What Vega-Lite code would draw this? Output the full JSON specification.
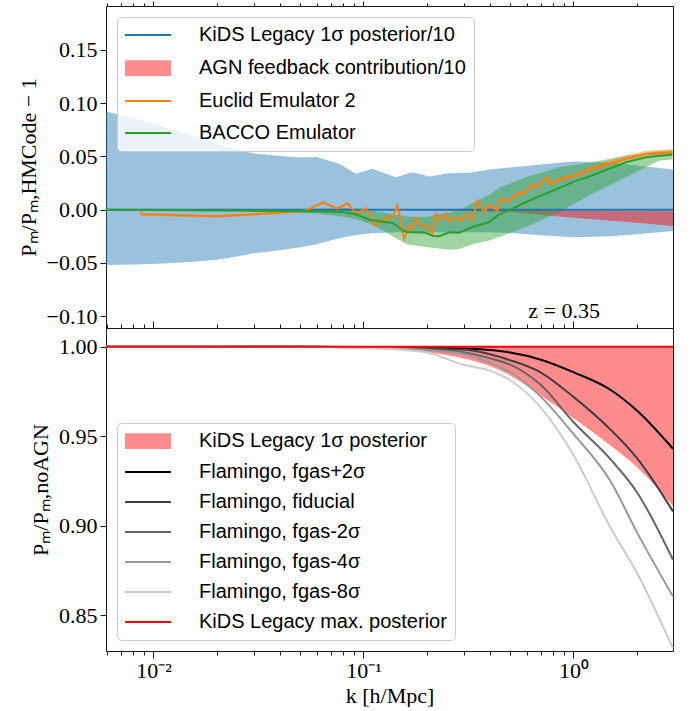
{
  "$schema": "https://vega.github.io/schema/vega-lite/v6.json",
  "padding": {"left": 16, "right": 5, "top": 0, "bottom": 0},
  "bounds": "flush",
  "spacing": 0,
  "background": "white",
  "datasets": {
    "topBands": [
      {"s": "KiDS Legacy 1σ posterior/10", "k": 0.00594, "lo": -0.052, "hi": 0.092},
      {"s": "KiDS Legacy 1σ posterior/10", "k": 0.008, "lo": -0.0515, "hi": 0.086},
      {"s": "KiDS Legacy 1σ posterior/10", "k": 0.01, "lo": -0.051, "hi": 0.0806},
      {"s": "KiDS Legacy 1σ posterior/10", "k": 0.015, "lo": -0.049, "hi": 0.0698},
      {"s": "KiDS Legacy 1σ posterior/10", "k": 0.02, "lo": -0.047, "hi": 0.0621},
      {"s": "KiDS Legacy 1σ posterior/10", "k": 0.025, "lo": -0.044, "hi": 0.0563},
      {"s": "KiDS Legacy 1σ posterior/10", "k": 0.03, "lo": -0.041, "hi": 0.0526},
      {"s": "KiDS Legacy 1σ posterior/10", "k": 0.04, "lo": -0.038, "hi": 0.0503},
      {"s": "KiDS Legacy 1σ posterior/10", "k": 0.05, "lo": -0.0352, "hi": 0.0489},
      {"s": "KiDS Legacy 1σ posterior/10", "k": 0.06, "lo": -0.0324, "hi": 0.0493},
      {"s": "KiDS Legacy 1σ posterior/10", "k": 0.0766, "lo": -0.0268, "hi": 0.043},
      {"s": "KiDS Legacy 1σ posterior/10", "k": 0.092, "lo": -0.0238, "hi": 0.0336},
      {"s": "KiDS Legacy 1σ posterior/10", "k": 0.11, "lo": -0.0221, "hi": 0.0383},
      {"s": "KiDS Legacy 1σ posterior/10", "k": 0.1426, "lo": -0.0212, "hi": 0.0304},
      {"s": "KiDS Legacy 1σ posterior/10", "k": 0.171, "lo": -0.0212, "hi": 0.0351},
      {"s": "KiDS Legacy 1σ posterior/10", "k": 0.2056, "lo": -0.0212, "hi": 0.0311},
      {"s": "KiDS Legacy 1σ posterior/10", "k": 0.255, "lo": -0.0212, "hi": 0.0342},
      {"s": "KiDS Legacy 1σ posterior/10", "k": 0.32, "lo": -0.0212, "hi": 0.0345},
      {"s": "KiDS Legacy 1σ posterior/10", "k": 0.4, "lo": -0.0212, "hi": 0.0377},
      {"s": "KiDS Legacy 1σ posterior/10", "k": 0.5, "lo": -0.022, "hi": 0.0395},
      {"s": "KiDS Legacy 1σ posterior/10", "k": 0.7, "lo": -0.024, "hi": 0.0423},
      {"s": "KiDS Legacy 1σ posterior/10", "k": 1.0, "lo": -0.026, "hi": 0.0451},
      {"s": "KiDS Legacy 1σ posterior/10", "k": 1.5, "lo": -0.025, "hi": 0.0442},
      {"s": "KiDS Legacy 1σ posterior/10", "k": 2.0, "lo": -0.023, "hi": 0.0414},
      {"s": "KiDS Legacy 1σ posterior/10", "k": 2.98, "lo": -0.02, "hi": 0.0377},
      {"s": "AGN feedback contribution/10", "k": 0.1, "lo": 0, "hi": 0},
      {"s": "AGN feedback contribution/10", "k": 0.2, "lo": -0.0008, "hi": 0},
      {"s": "AGN feedback contribution/10", "k": 0.3, "lo": -0.0013, "hi": 0},
      {"s": "AGN feedback contribution/10", "k": 0.5, "lo": -0.0023, "hi": -0.0003},
      {"s": "AGN feedback contribution/10", "k": 1.0, "lo": -0.0075, "hi": -0.0008},
      {"s": "AGN feedback contribution/10", "k": 2.0, "lo": -0.0123, "hi": -0.0012},
      {"s": "AGN feedback contribution/10", "k": 2.98, "lo": -0.0153, "hi": -0.0015},
      {"s": "BACCO Emulator", "k": 0.00594, "lo": -0.0005, "hi": 0.0005},
      {"s": "BACCO Emulator", "k": 0.0286, "lo": -0.0015, "hi": 0.0},
      {"s": "BACCO Emulator", "k": 0.0593, "lo": -0.0035, "hi": 0.0008},
      {"s": "BACCO Emulator", "k": 0.0792, "lo": -0.0065, "hi": 0.0015},
      {"s": "BACCO Emulator", "k": 0.092, "lo": -0.009, "hi": 0.001},
      {"s": "BACCO Emulator", "k": 0.1065, "lo": -0.013, "hi": -0.001},
      {"s": "BACCO Emulator", "k": 0.1231, "lo": -0.019, "hi": -0.0025},
      {"s": "BACCO Emulator", "k": 0.1374, "lo": -0.025, "hi": -0.004},
      {"s": "BACCO Emulator", "k": 0.1614, "lo": -0.0325, "hi": -0.0065},
      {"s": "BACCO Emulator", "k": 0.1982, "lo": -0.035, "hi": -0.007},
      {"s": "BACCO Emulator", "k": 0.2293, "lo": -0.0365, "hi": -0.004},
      {"s": "BACCO Emulator", "k": 0.2559, "lo": -0.0375, "hi": -0.003},
      {"s": "BACCO Emulator", "k": 0.2856, "lo": -0.037, "hi": 0.0},
      {"s": "BACCO Emulator", "k": 0.3304, "lo": -0.0325, "hi": 0.006},
      {"s": "BACCO Emulator", "k": 0.3968, "lo": -0.029, "hi": 0.014},
      {"s": "BACCO Emulator", "k": 0.4428, "lo": -0.0256, "hi": 0.0205},
      {"s": "BACCO Emulator", "k": 0.5933, "lo": -0.0163, "hi": 0.0305},
      {"s": "BACCO Emulator", "k": 0.855, "lo": -0.0022, "hi": 0.0398},
      {"s": "BACCO Emulator", "k": 1.2316, "lo": 0.015, "hi": 0.0445},
      {"s": "BACCO Emulator", "k": 1.776, "lo": 0.0305, "hi": 0.0507},
      {"s": "BACCO Emulator", "k": 2.56, "lo": 0.046, "hi": 0.0548},
      {"s": "BACCO Emulator", "k": 2.961, "lo": 0.047, "hi": 0.0554},
      {"s": "Euclid Emulator 2", "k": 0.00871, "lo": -0.0012, "hi": 0.0012},
      {"s": "Euclid Emulator 2", "k": 0.00879, "lo": -0.0056, "hi": -0.0032},
      {"s": "Euclid Emulator 2", "k": 0.0198, "lo": -0.0075, "hi": -0.0051},
      {"s": "Euclid Emulator 2", "k": 0.0343, "lo": -0.0049, "hi": -0.0025},
      {"s": "Euclid Emulator 2", "k": 0.0443, "lo": -0.0034, "hi": -0.001},
      {"s": "Euclid Emulator 2", "k": 0.0532, "lo": -0.0019, "hi": 0.0005},
      {"s": "Euclid Emulator 2", "k": 0.0643, "lo": 0.0056, "hi": 0.008},
      {"s": "Euclid Emulator 2", "k": 0.0749, "lo": -0.0003, "hi": 0.0021},
      {"s": "Euclid Emulator 2", "k": 0.0839, "lo": 0.0047, "hi": 0.0071},
      {"s": "Euclid Emulator 2", "k": 0.0923, "lo": -0.0051, "hi": -0.0027},
      {"s": "Euclid Emulator 2", "k": 0.1027, "lo": -0.0003, "hi": 0.0027},
      {"s": "Euclid Emulator 2", "k": 0.1143, "lo": -0.0166, "hi": -0.0136},
      {"s": "Euclid Emulator 2", "k": 0.1231, "lo": -0.0106, "hi": -0.0076},
      {"s": "Euclid Emulator 2", "k": 0.1374, "lo": -0.008, "hi": -0.005},
      {"s": "Euclid Emulator 2", "k": 0.1452, "lo": 0.0025, "hi": 0.0055},
      {"s": "Euclid Emulator 2", "k": 0.1562, "lo": -0.0286, "hi": -0.0256},
      {"s": "Euclid Emulator 2", "k": 0.1651, "lo": -0.0166, "hi": -0.0136},
      {"s": "Euclid Emulator 2", "k": 0.1711, "lo": -0.0193, "hi": -0.0163},
      {"s": "Euclid Emulator 2", "k": 0.1777, "lo": -0.0092, "hi": -0.0062},
      {"s": "Euclid Emulator 2", "k": 0.1876, "lo": -0.0162, "hi": -0.0132},
      {"s": "Euclid Emulator 2", "k": 0.2056, "lo": -0.018, "hi": -0.015},
      {"s": "Euclid Emulator 2", "k": 0.2131, "lo": -0.0239, "hi": -0.0209},
      {"s": "Euclid Emulator 2", "k": 0.2212, "lo": -0.0052, "hi": -0.0022},
      {"s": "Euclid Emulator 2", "k": 0.2336, "lo": -0.0115, "hi": -0.0085},
      {"s": "Euclid Emulator 2", "k": 0.2468, "lo": -0.0052, "hi": -0.0022},
      {"s": "Euclid Emulator 2", "k": 0.2559, "lo": -0.0124, "hi": -0.0094},
      {"s": "Euclid Emulator 2", "k": 0.2754, "lo": -0.0087, "hi": -0.0057},
      {"s": "Euclid Emulator 2", "k": 0.2919, "lo": -0.0115, "hi": -0.0085},
      {"s": "Euclid Emulator 2", "k": 0.3074, "lo": -0.0052, "hi": -0.0022},
      {"s": "Euclid Emulator 2", "k": 0.3304, "lo": -0.0115, "hi": -0.0085},
      {"s": "Euclid Emulator 2", "k": 0.349, "lo": 0.0072, "hi": 0.0102},
      {"s": "Euclid Emulator 2", "k": 0.3757, "lo": -0.0037, "hi": -0.0007},
      {"s": "Euclid Emulator 2", "k": 0.3968, "lo": 0.0025, "hi": 0.0055},
      {"s": "Euclid Emulator 2", "k": 0.4346, "lo": -0.0022, "hi": 0.0008},
      {"s": "Euclid Emulator 2", "k": 0.4511, "lo": 0.0088, "hi": 0.0118},
      {"s": "Euclid Emulator 2", "k": 0.485, "lo": 0.0058, "hi": 0.0088},
      {"s": "Euclid Emulator 2", "k": 0.5412, "lo": 0.013, "hi": 0.017},
      {"s": "Euclid Emulator 2", "k": 0.5933, "lo": 0.0144, "hi": 0.0184},
      {"s": "Euclid Emulator 2", "k": 0.6268, "lo": 0.0207, "hi": 0.0247},
      {"s": "Euclid Emulator 2", "k": 0.6739, "lo": 0.0191, "hi": 0.0231},
      {"s": "Euclid Emulator 2", "k": 0.7518, "lo": 0.0285, "hi": 0.0325},
      {"s": "Euclid Emulator 2", "k": 0.7804, "lo": 0.0223, "hi": 0.0263},
      {"s": "Euclid Emulator 2", "k": 0.9201, "lo": 0.0285, "hi": 0.0325},
      {"s": "Euclid Emulator 2", "k": 0.989, "lo": 0.029, "hi": 0.033},
      {"s": "Euclid Emulator 2", "k": 1.2316, "lo": 0.0368, "hi": 0.0413},
      {"s": "Euclid Emulator 2", "k": 1.447, "lo": 0.0408, "hi": 0.0453},
      {"s": "Euclid Emulator 2", "k": 1.776, "lo": 0.046, "hi": 0.0505},
      {"s": "Euclid Emulator 2", "k": 2.212, "lo": 0.0508, "hi": 0.0553},
      {"s": "Euclid Emulator 2", "k": 2.961, "lo": 0.0523, "hi": 0.0568}
    ],
    "topLines": [
      {"s": "KiDS Legacy 1σ posterior/10", "k": 0.00594, "v": 0},
      {"s": "KiDS Legacy 1σ posterior/10", "k": 2.98, "v": 0},
      {"s": "Euclid Emulator 2", "k": 0.00871, "v": 0.0},
      {"s": "Euclid Emulator 2", "k": 0.00879, "v": -0.0044},
      {"s": "Euclid Emulator 2", "k": 0.0198, "v": -0.0063},
      {"s": "Euclid Emulator 2", "k": 0.0343, "v": -0.0037},
      {"s": "Euclid Emulator 2", "k": 0.0443, "v": -0.0022},
      {"s": "Euclid Emulator 2", "k": 0.0532, "v": -0.0007},
      {"s": "Euclid Emulator 2", "k": 0.0643, "v": 0.0068},
      {"s": "Euclid Emulator 2", "k": 0.0749, "v": 0.0009},
      {"s": "Euclid Emulator 2", "k": 0.0839, "v": 0.0059},
      {"s": "Euclid Emulator 2", "k": 0.0923, "v": -0.0039},
      {"s": "Euclid Emulator 2", "k": 0.1027, "v": 0.0012},
      {"s": "Euclid Emulator 2", "k": 0.1143, "v": -0.0151},
      {"s": "Euclid Emulator 2", "k": 0.1231, "v": -0.0091},
      {"s": "Euclid Emulator 2", "k": 0.1374, "v": -0.0065},
      {"s": "Euclid Emulator 2", "k": 0.1452, "v": 0.004},
      {"s": "Euclid Emulator 2", "k": 0.1562, "v": -0.0271},
      {"s": "Euclid Emulator 2", "k": 0.1651, "v": -0.0151},
      {"s": "Euclid Emulator 2", "k": 0.1711, "v": -0.0178},
      {"s": "Euclid Emulator 2", "k": 0.1777, "v": -0.0077},
      {"s": "Euclid Emulator 2", "k": 0.1876, "v": -0.0147},
      {"s": "Euclid Emulator 2", "k": 0.2056, "v": -0.0165},
      {"s": "Euclid Emulator 2", "k": 0.2131, "v": -0.0224},
      {"s": "Euclid Emulator 2", "k": 0.2212, "v": -0.0037},
      {"s": "Euclid Emulator 2", "k": 0.2336, "v": -0.01},
      {"s": "Euclid Emulator 2", "k": 0.2468, "v": -0.0037},
      {"s": "Euclid Emulator 2", "k": 0.2559, "v": -0.0109},
      {"s": "Euclid Emulator 2", "k": 0.2754, "v": -0.0072},
      {"s": "Euclid Emulator 2", "k": 0.2919, "v": -0.01},
      {"s": "Euclid Emulator 2", "k": 0.3074, "v": -0.0037},
      {"s": "Euclid Emulator 2", "k": 0.3304, "v": -0.01},
      {"s": "Euclid Emulator 2", "k": 0.349, "v": 0.0087},
      {"s": "Euclid Emulator 2", "k": 0.3757, "v": -0.0022},
      {"s": "Euclid Emulator 2", "k": 0.3968, "v": 0.004},
      {"s": "Euclid Emulator 2", "k": 0.4346, "v": -0.0007},
      {"s": "Euclid Emulator 2", "k": 0.4511, "v": 0.0103},
      {"s": "Euclid Emulator 2", "k": 0.485, "v": 0.0073},
      {"s": "Euclid Emulator 2", "k": 0.5412, "v": 0.015},
      {"s": "Euclid Emulator 2", "k": 0.5933, "v": 0.0164},
      {"s": "Euclid Emulator 2", "k": 0.6268, "v": 0.0227},
      {"s": "Euclid Emulator 2", "k": 0.6739, "v": 0.0211},
      {"s": "Euclid Emulator 2", "k": 0.7518, "v": 0.0305},
      {"s": "Euclid Emulator 2", "k": 0.7804, "v": 0.0243},
      {"s": "Euclid Emulator 2", "k": 0.9201, "v": 0.0305},
      {"s": "Euclid Emulator 2", "k": 0.989, "v": 0.031},
      {"s": "Euclid Emulator 2", "k": 1.2316, "v": 0.0383},
      {"s": "Euclid Emulator 2", "k": 1.447, "v": 0.0423},
      {"s": "Euclid Emulator 2", "k": 1.776, "v": 0.0475},
      {"s": "Euclid Emulator 2", "k": 2.212, "v": 0.0523},
      {"s": "Euclid Emulator 2", "k": 2.961, "v": 0.0538},
      {"s": "BACCO Emulator", "k": 0.00594, "v": 0},
      {"s": "BACCO Emulator", "k": 0.02855, "v": -0.0011},
      {"s": "BACCO Emulator", "k": 0.05934, "v": -0.0016},
      {"s": "BACCO Emulator", "k": 0.07915, "v": -0.0022},
      {"s": "BACCO Emulator", "k": 0.09201, "v": -0.0044},
      {"s": "BACCO Emulator", "k": 0.1065, "v": -0.0095},
      {"s": "BACCO Emulator", "k": 0.1231, "v": -0.0114},
      {"s": "BACCO Emulator", "k": 0.1374, "v": -0.0123},
      {"s": "BACCO Emulator", "k": 0.1534, "v": -0.0193},
      {"s": "BACCO Emulator", "k": 0.1614, "v": -0.0209},
      {"s": "BACCO Emulator", "k": 0.1982, "v": -0.0217},
      {"s": "BACCO Emulator", "k": 0.2131, "v": -0.0245},
      {"s": "BACCO Emulator", "k": 0.2293, "v": -0.025},
      {"s": "BACCO Emulator", "k": 0.2559, "v": -0.0213},
      {"s": "BACCO Emulator", "k": 0.2856, "v": -0.0217},
      {"s": "BACCO Emulator", "k": 0.3304, "v": -0.0163},
      {"s": "BACCO Emulator", "k": 0.3968, "v": -0.0116},
      {"s": "BACCO Emulator", "k": 0.4428, "v": -0.0044},
      {"s": "BACCO Emulator", "k": 0.4941, "v": -0.0007},
      {"s": "BACCO Emulator", "k": 0.5933, "v": 0.0071},
      {"s": "BACCO Emulator", "k": 0.7387, "v": 0.015},
      {"s": "BACCO Emulator", "k": 0.9201, "v": 0.0227},
      {"s": "BACCO Emulator", "k": 0.989, "v": 0.0258},
      {"s": "BACCO Emulator", "k": 1.2316, "v": 0.0321},
      {"s": "BACCO Emulator", "k": 1.479, "v": 0.0384},
      {"s": "BACCO Emulator", "k": 1.776, "v": 0.0445},
      {"s": "BACCO Emulator", "k": 2.212, "v": 0.0492},
      {"s": "BACCO Emulator", "k": 2.961, "v": 0.0517}
    ],
    "botBand": [
      {"s": "KiDS Legacy 1σ posterior", "k": 0.00594, "lo": 1.0, "hi": 1.0},
      {"s": "KiDS Legacy 1σ posterior", "k": 0.05, "lo": 1.0, "hi": 1.0},
      {"s": "KiDS Legacy 1σ posterior", "k": 0.1, "lo": 0.9995, "hi": 1.0},
      {"s": "KiDS Legacy 1σ posterior", "k": 0.15, "lo": 0.9985, "hi": 1.0},
      {"s": "KiDS Legacy 1σ posterior", "k": 0.2, "lo": 0.997, "hi": 1.0},
      {"s": "KiDS Legacy 1σ posterior", "k": 0.3, "lo": 0.9935, "hi": 1.0},
      {"s": "KiDS Legacy 1σ posterior", "k": 0.4, "lo": 0.9892, "hi": 1.0},
      {"s": "KiDS Legacy 1σ posterior", "k": 0.5, "lo": 0.984, "hi": 1.0},
      {"s": "KiDS Legacy 1σ posterior", "k": 0.7, "lo": 0.9728, "hi": 1.0},
      {"s": "KiDS Legacy 1σ posterior", "k": 1.0, "lo": 0.96, "hi": 1.0},
      {"s": "KiDS Legacy 1σ posterior", "k": 1.5, "lo": 0.9449, "hi": 1.0},
      {"s": "KiDS Legacy 1σ posterior", "k": 2.0, "lo": 0.933, "hi": 1.0},
      {"s": "KiDS Legacy 1σ posterior", "k": 2.98, "lo": 0.911, "hi": 1.0}
    ],
    "botLines": [
      {"s": "Flamingo, fgas+2σ", "k": 0.00594, "v": 1.0},
      {"s": "Flamingo, fgas+2σ", "k": 0.05, "v": 1.0},
      {"s": "Flamingo, fgas+2σ", "k": 0.1, "v": 0.9999},
      {"s": "Flamingo, fgas+2σ", "k": 0.15, "v": 0.9997},
      {"s": "Flamingo, fgas+2σ", "k": 0.2, "v": 0.9995},
      {"s": "Flamingo, fgas+2σ", "k": 0.3, "v": 0.999},
      {"s": "Flamingo, fgas+2σ", "k": 0.4, "v": 0.9982},
      {"s": "Flamingo, fgas+2σ", "k": 0.5, "v": 0.9968},
      {"s": "Flamingo, fgas+2σ", "k": 0.7, "v": 0.9928},
      {"s": "Flamingo, fgas+2σ", "k": 1.0, "v": 0.9858},
      {"s": "Flamingo, fgas+2σ", "k": 1.5, "v": 0.976},
      {"s": "Flamingo, fgas+2σ", "k": 2.0, "v": 0.9645},
      {"s": "Flamingo, fgas+2σ", "k": 2.98, "v": 0.943},
      {"s": "Flamingo, fiducial", "k": 0.00594, "v": 1.0},
      {"s": "Flamingo, fiducial", "k": 0.05, "v": 1.0},
      {"s": "Flamingo, fiducial", "k": 0.1, "v": 0.9998},
      {"s": "Flamingo, fiducial", "k": 0.15, "v": 0.9995},
      {"s": "Flamingo, fiducial", "k": 0.2, "v": 0.999},
      {"s": "Flamingo, fiducial", "k": 0.3, "v": 0.9985},
      {"s": "Flamingo, fiducial", "k": 0.4, "v": 0.9958},
      {"s": "Flamingo, fiducial", "k": 0.5, "v": 0.9925},
      {"s": "Flamingo, fiducial", "k": 0.7, "v": 0.9856},
      {"s": "Flamingo, fiducial", "k": 1.0, "v": 0.972},
      {"s": "Flamingo, fiducial", "k": 1.5, "v": 0.9538},
      {"s": "Flamingo, fiducial", "k": 2.0, "v": 0.938},
      {"s": "Flamingo, fiducial", "k": 2.98, "v": 0.908},
      {"s": "Flamingo, fgas-2σ", "k": 0.00594, "v": 1.0},
      {"s": "Flamingo, fgas-2σ", "k": 0.05, "v": 1.0},
      {"s": "Flamingo, fgas-2σ", "k": 0.1, "v": 0.9997},
      {"s": "Flamingo, fgas-2σ", "k": 0.15, "v": 0.9993},
      {"s": "Flamingo, fgas-2σ", "k": 0.2, "v": 0.9985},
      {"s": "Flamingo, fgas-2σ", "k": 0.3, "v": 0.997},
      {"s": "Flamingo, fgas-2σ", "k": 0.4, "v": 0.9936},
      {"s": "Flamingo, fgas-2σ", "k": 0.5, "v": 0.99},
      {"s": "Flamingo, fgas-2σ", "k": 0.7, "v": 0.9786},
      {"s": "Flamingo, fgas-2σ", "k": 1.0, "v": 0.958},
      {"s": "Flamingo, fgas-2σ", "k": 1.5, "v": 0.9372},
      {"s": "Flamingo, fgas-2σ", "k": 2.0, "v": 0.919},
      {"s": "Flamingo, fgas-2σ", "k": 2.98, "v": 0.881},
      {"s": "Flamingo, fgas-4σ", "k": 0.00594, "v": 1.0},
      {"s": "Flamingo, fgas-4σ", "k": 0.05, "v": 1.0},
      {"s": "Flamingo, fgas-4σ", "k": 0.1, "v": 0.9996},
      {"s": "Flamingo, fgas-4σ", "k": 0.15, "v": 0.999},
      {"s": "Flamingo, fgas-4σ", "k": 0.2, "v": 0.998},
      {"s": "Flamingo, fgas-4σ", "k": 0.3, "v": 0.996},
      {"s": "Flamingo, fgas-4σ", "k": 0.4, "v": 0.991},
      {"s": "Flamingo, fgas-4σ", "k": 0.5, "v": 0.986},
      {"s": "Flamingo, fgas-4σ", "k": 0.7, "v": 0.972},
      {"s": "Flamingo, fgas-4σ", "k": 1.0, "v": 0.9513},
      {"s": "Flamingo, fgas-4σ", "k": 1.5, "v": 0.925},
      {"s": "Flamingo, fgas-4σ", "k": 2.0, "v": 0.8967},
      {"s": "Flamingo, fgas-4σ", "k": 2.98, "v": 0.8604},
      {"s": "Flamingo, fgas-8σ", "k": 0.00594, "v": 1.0},
      {"s": "Flamingo, fgas-8σ", "k": 0.05, "v": 0.9999},
      {"s": "Flamingo, fgas-8σ", "k": 0.1, "v": 0.9993},
      {"s": "Flamingo, fgas-8σ", "k": 0.15, "v": 0.9983},
      {"s": "Flamingo, fgas-8σ", "k": 0.2, "v": 0.9968},
      {"s": "Flamingo, fgas-8σ", "k": 0.3, "v": 0.99},
      {"s": "Flamingo, fgas-8σ", "k": 0.4, "v": 0.9867},
      {"s": "Flamingo, fgas-8σ", "k": 0.5, "v": 0.9813},
      {"s": "Flamingo, fgas-8σ", "k": 0.7, "v": 0.966},
      {"s": "Flamingo, fgas-8σ", "k": 1.0, "v": 0.9395},
      {"s": "Flamingo, fgas-8σ", "k": 1.5, "v": 0.899},
      {"s": "Flamingo, fgas-8σ", "k": 2.0, "v": 0.874},
      {"s": "Flamingo, fgas-8σ", "k": 2.98, "v": 0.8315},
      {"s": "KiDS Legacy max. posterior", "k": 0.00594, "v": 1.0},
      {"s": "KiDS Legacy max. posterior", "k": 2.98, "v": 1.0}
    ]
  },
  "vconcat": [
    {
      "width": 567,
      "height": 322,
      "layer": [
        {
          "data": {"name": "topBands"},
          "mark": {"type": "area", "opacity": 0.45},
          "encoding": {
            "x": {"field": "k", "type": "quantitative",
              "scale": {"type": "log", "domain": [0.00594, 2.98], "nice": false},
              "axis": {"orient": "top", "title": null, "labels": false, "domain": false,
                "values": [0.006,0.007,0.008,0.009,0.01,0.02,0.03,0.04,0.05,0.06,0.07,0.08,0.09,0.1,0.2,0.3,0.4,0.5,0.6,0.7,0.8,0.9,1,2],
                "tickSize": {"condition": {"test": "datum.value == 0.01 || datum.value == 0.1 || datum.value == 1", "value": 5}, "value": 3}}},
            "y": {"field": "lo", "type": "quantitative",
              "scale": {"domain": [-0.111, 0.191], "nice": false, "zero": false},
              "axis": {"title": "Pₘ/Pₘ,HMCode − 1", "values": [-0.1, -0.05, 0, 0.05, 0.1, 0.15], "format": ".2f", "tickSize": 6, "labelPadding": 3, "titlePadding": 6, "domain": false}},
            "y2": {"field": "hi"},
            "fill": {"field": "s", "type": "nominal", "legend": null,
              "scale": {"domain": ["AGN feedback contribution/10", "KiDS Legacy 1σ posterior/10", "BACCO Emulator", "Euclid Emulator 2"], "range": ["#ff0000", "#1f77b4", "#2ca02c", "#ff7f0e"]}}
          }
        },
        {
          "data": {"name": "topLines"},
          "mark": {"type": "line", "strokeWidth": 2},
          "encoding": {
            "x": {"field": "k", "type": "quantitative",
              "axis": {"orient": "top", "title": null, "labels": false, "domain": false,
                "values": [0.006,0.007,0.008,0.009,0.01,0.02,0.03,0.04,0.05,0.06,0.07,0.08,0.09,0.1,0.2,0.3,0.4,0.5,0.6,0.7,0.8,0.9,1,2],
                "tickSize": {"condition": {"test": "datum.value == 0.01 || datum.value == 0.1 || datum.value == 1", "value": 5}, "value": 3}}},
            "y": {"field": "v", "type": "quantitative",
              "axis": {"title": "Pₘ/Pₘ,HMCode − 1", "values": [-0.1, -0.05, 0, 0.05, 0.1, 0.15], "format": ".2f", "tickSize": 6, "labelPadding": 3, "titlePadding": 6, "domain": false}},
            "color": {"field": "s", "type": "nominal", "legend": null,
              "scale": {"domain": ["KiDS Legacy 1σ posterior/10", "Euclid Emulator 2", "BACCO Emulator"], "range": ["#1f77b4", "#ff7f0e", "#2ca02c"]}}
          }
        },
        {
          "data": {"values": [{}]},
          "mark": {"type": "text", "font": "Liberation Serif", "fontSize": 22, "align": "center", "baseline": "middle", "color": "#000"},
          "encoding": {
            "x": {"datum": 0.903, "type": "quantitative",
              "axis": {"orient": "top", "title": null, "labels": false, "domain": false,
                "values": [0.006,0.007,0.008,0.009,0.01,0.02,0.03,0.04,0.05,0.06,0.07,0.08,0.09,0.1,0.2,0.3,0.4,0.5,0.6,0.7,0.8,0.9,1,2],
                "tickSize": {"condition": {"test": "datum.value == 0.01 || datum.value == 0.1 || datum.value == 1", "value": 5}, "value": 3}}},
            "y": {"datum": -0.095, "type": "quantitative",
              "axis": {"title": "Pₘ/Pₘ,HMCode − 1", "values": [-0.1, -0.05, 0, 0.05, 0.1, 0.15], "format": ".2f", "tickSize": 6, "labelPadding": 3, "titlePadding": 6, "domain": false}},
            "text": {"value": "z = 0.35"}
          }
        },
        {
          "data": {"values": []},
          "mark": {"type": "point", "opacity": 1, "filled": false},
          "encoding": {
            "stroke": {"field": "s", "type": "nominal",
              "scale": {"domain": ["KiDS Legacy 1σ posterior/10", "AGN feedback contribution/10", "Euclid Emulator 2", "BACCO Emulator"], "range": ["#1f77b4", "rgba(255,0,0,0.45)", "#ff7f0e", "#2ca02c"]},
              "legend": {"title": null, "orient": "top-left", "offset": 11, "padding": 8, "rowPadding": 12, "labelOffset": 41, "symbolOffset": 13, "symbolSize": 256, "symbolStrokeWidth": 2, "labelLimit": 600}},
            "shape": {"field": "s", "type": "nominal",
              "scale": {"domain": ["KiDS Legacy 1σ posterior/10", "AGN feedback contribution/10", "Euclid Emulator 2", "BACCO Emulator"],
                "range": ["M-2.875,0H2.875", "M-2.875,-0.855H2.875M-2.875,-0.61H2.875M-2.875,-0.365H2.875M-2.875,-0.12H2.875M-2.875,0.125H2.875M-2.875,0.37H2.875M-2.875,0.615H2.875M-2.875,0.86H2.875", "M-2.875,0H2.875", "M-2.875,0H2.875"]},
              "legend": {"title": null, "orient": "top-left", "offset": 11, "padding": 8, "rowPadding": 12, "labelOffset": 41, "symbolOffset": 13, "symbolSize": 256, "symbolStrokeWidth": 2, "labelLimit": 600}}
          }
        }
      ]
    },
    {
      "width": 567,
      "height": 323,
      "resolve": {"axis": {"x": "independent"}},
      "layer": [
        {
          "data": {"name": "botBand"},
          "mark": {"type": "area", "opacity": 0.45, "interpolate": "monotone"},
          "encoding": {
            "x": {"field": "k", "type": "quantitative",
              "scale": {"type": "log", "domain": [0.00594, 2.98], "nice": false},
              "axis": {"orient": "bottom", "title": "k [h/Mpc]", "domain": false, "labelOverlap": false, "labelFlush": false, "labelBound": false,
                "values": [0.006,0.007,0.008,0.009,0.01,0.02,0.03,0.04,0.05,0.06,0.07,0.08,0.09,0.1,0.2,0.3,0.4,0.5,0.6,0.7,0.8,0.9,1,2],
                "labelExpr": "datum.value == 0.01 ? '10⁻²' : datum.value == 0.1 ? '10⁻¹' : datum.value == 1 ? '10⁰' : ''",
                "labelPadding": 2, "titlePadding": 4,
                "tickSize": {"condition": {"test": "datum.value == 0.01 || datum.value == 0.1 || datum.value == 1", "value": 7}, "value": 4}}},
            "y": {"field": "lo", "type": "quantitative",
              "scale": {"domain": [0.83, 1.0105], "nice": false, "zero": false},
              "axis": {"title": "Pₘ/Pₘ,noAGN", "values": [0.85, 0.9, 0.95, 1.0], "format": ".2f", "tickSize": 6, "labelPadding": 3, "titlePadding": 6, "domain": false}},
            "y2": {"field": "hi"},
            "fill": {"field": "s", "type": "nominal", "legend": null,
              "scale": {"domain": ["KiDS Legacy 1σ posterior"], "range": ["#ff0000"]}}
          }
        },
        {
          "data": {"name": "botLines"},
          "mark": {"type": "line", "strokeWidth": 2, "interpolate": "monotone"},
          "encoding": {
            "x": {"field": "k", "type": "quantitative",
              "axis": {"orient": "top", "title": null, "labels": false, "domain": false,
                "values": [0.006,0.007,0.008,0.009,0.01,0.02,0.03,0.04,0.05,0.06,0.07,0.08,0.09,0.1,0.2,0.3,0.4,0.5,0.6,0.7,0.8,0.9,1,2],
                "tickSize": {"condition": {"test": "datum.value == 0.01 || datum.value == 0.1 || datum.value == 1", "value": 7}, "value": 4}}},
            "y": {"field": "v", "type": "quantitative",
              "axis": {"title": "Pₘ/Pₘ,noAGN", "values": [0.85, 0.9, 0.95, 1.0], "format": ".2f", "tickSize": 6, "labelPadding": 3, "titlePadding": 6, "domain": false}},
            "color": {"field": "s", "type": "nominal", "legend": null,
              "scale": {"domain": ["Flamingo, fgas+2σ", "Flamingo, fiducial", "Flamingo, fgas-2σ", "Flamingo, fgas-4σ", "Flamingo, fgas-8σ", "KiDS Legacy max. posterior"],
                "range": ["#000000", "#404040", "#666666", "#999999", "#cccccc", "#ff0000"]}}
          }
        },
        {
          "data": {"values": []},
          "mark": {"type": "point", "opacity": 1, "filled": false},
          "encoding": {
            "stroke": {"field": "s", "type": "nominal",
              "scale": {"domain": ["KiDS Legacy 1σ posterior", "Flamingo, fgas+2σ", "Flamingo, fiducial", "Flamingo, fgas-2σ", "Flamingo, fgas-4σ", "Flamingo, fgas-8σ", "KiDS Legacy max. posterior"],
                "range": ["rgba(255,0,0,0.45)", "#000000", "#404040", "#666666", "#999999", "#cccccc", "#ff0000"]},
              "legend": {"title": null, "orient": "bottom-left", "offset": 11, "padding": 8, "rowPadding": 10, "labelOffset": 41, "symbolOffset": 13, "symbolSize": 256, "symbolStrokeWidth": 2, "labelLimit": 600}},
            "shape": {"field": "s", "type": "nominal",
              "scale": {"domain": ["KiDS Legacy 1σ posterior", "Flamingo, fgas+2σ", "Flamingo, fiducial", "Flamingo, fgas-2σ", "Flamingo, fgas-4σ", "Flamingo, fgas-8σ", "KiDS Legacy max. posterior"],
                "range": ["M-2.875,-0.855H2.875M-2.875,-0.61H2.875M-2.875,-0.365H2.875M-2.875,-0.12H2.875M-2.875,0.125H2.875M-2.875,0.37H2.875M-2.875,0.615H2.875M-2.875,0.86H2.875", "M-2.875,0H2.875", "M-2.875,0H2.875", "M-2.875,0H2.875", "M-2.875,0H2.875", "M-2.875,0H2.875", "M-2.875,0H2.875"]},
              "legend": {"title": null, "orient": "bottom-left", "offset": 11, "padding": 8, "rowPadding": 10, "labelOffset": 41, "symbolOffset": 13, "symbolSize": 256, "symbolStrokeWidth": 2, "labelLimit": 600}}
          }
        }
      ]
    }
  ],
  "resolve": {
    "scale": {"color": "independent", "fill": "independent", "stroke": "independent", "shape": "independent", "x": "independent", "y": "independent"},
    "legend": {"stroke": "independent", "shape": "independent", "color": "independent", "fill": "independent"}
  },
  "config": {
    "view": {"stroke": "#1a1a1a", "strokeWidth": 1},
    "axis": {"grid": false, "tickColor": "#1a1a1a", "labelColor": "#000", "titleColor": "#000",
      "labelFont": "Liberation Serif", "labelFontSize": 22, "titleFont": "Liberation Serif", "titleFontSize": 22, "titleFontWeight": "normal"},
    "legend": {"labelFont": "Liberation Sans", "labelFontSize": 20, "labelColor": "#000",
      "fillColor": "rgba(255,255,255,0.8)", "strokeColor": "#cccccc", "cornerRadius": 4, "symbolStrokeWidth": 2}
  }
}
